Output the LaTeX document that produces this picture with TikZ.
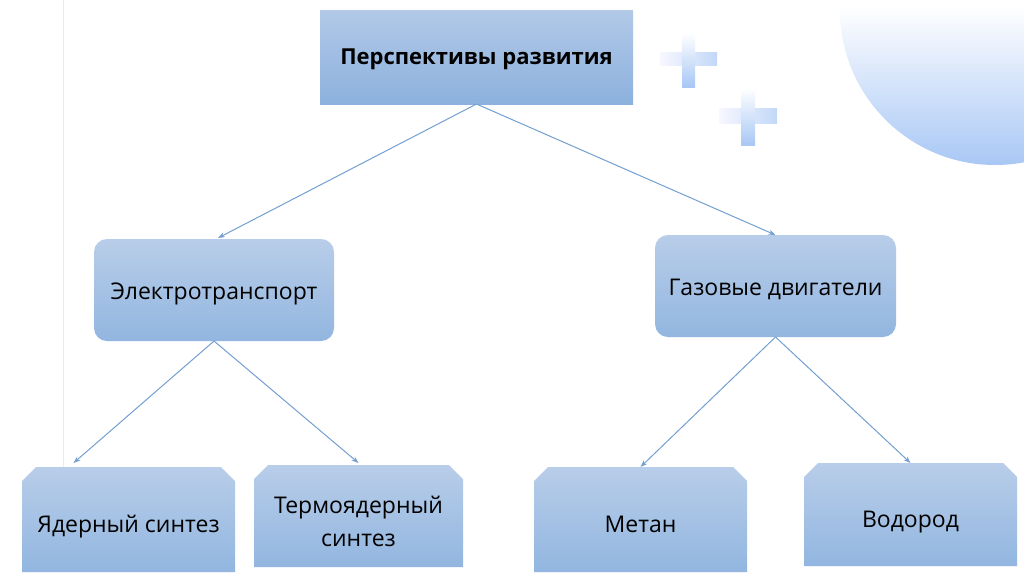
\documentclass[tikz,border=0pt]{standalone}
\usepackage{fontspec}
\setmainfont{Open Sans}
\usetikzlibrary{arrows.meta, shapes.misc}
\definecolor{boxtop}{RGB}{184,205,233}
\definecolor{boxbot}{RGB}{146,182,224}
\definecolor{headtop}{RGB}{178,201,231}
\definecolor{headbot}{RGB}{140,177,222}
\definecolor{linkblue}{RGB}{115,160,208}
\definecolor{deco}{RGB}{168,199,245}

\tikzset{
  box/.style={inner sep=0pt, outer sep=0pt, align=center, top color=boxtop, bottom color=boxbot,
    font=\fontsize{23}{33}\selectfont},
  headbox/.style={box, top color=headtop, bottom color=headbot, font=\fontsize{22}{30}\selectfont\bfseries,
    text height=20pt, text depth=6pt},
  roundbox/.style={box, rounded corners=13pt, text height=24pt, text depth=6pt},
  cutbox/.style={box, chamfered rectangle, chamfered rectangle sep=7pt,
    chamfered rectangle corners={north west,north east}},
  lowtext/.style={text height=32pt, text depth=6pt},
  link/.style={-{Stealth[length=7pt,width=5pt]}, linkblue, line width=1pt}
}

\begin{document}
\begin{tikzpicture}[x=1pt,y=-1pt]
\useasboundingbox (0,0) rectangle (1024,574);
\fill[white] (0,0) rectangle (1024,574);

% corner decoration
\begin{scope}
\clip (995,10) circle (155);
\shade[top color=white, bottom color=deco] (830,6) rectangle (1024,166);
\end{scope}
\draw[black!8, line width=1pt] (63,0) -- (63,467);

% plus signs
\shade[left color=blue!3, right color=deco!70] (660,52) rectangle (717,65);
\shade[top color=white, bottom color=deco] (682,33) rectangle (695,87);
\shade[left color=blue!3, right color=deco!70] (719,108) rectangle (777,123);
\shade[top color=white, bottom color=deco] (741,88) rectangle (755,145);

% root
\node[headbox, minimum width=313pt, minimum height=94pt] (root) at (476.5,57) {Перспективы развития};

% second level
\node[roundbox, minimum width=240pt, minimum height=102pt] (elec) at (214,290) {Электротранспорт};
\node[roundbox, minimum width=241pt, minimum height=102pt] (gas) at (775.5,286) {Газовые двигатели};

% third level
\node[cutbox, lowtext, minimum width=213pt, minimum height=105pt] (yad) at (128.5,519.5) {Ядерный синтез};
\node[cutbox, text height=66pt, text depth=6pt, minimum width=209pt, minimum height=102pt] (term) at (358.5,516) {Термоядерный\\синтез};
\node[cutbox, lowtext, minimum width=213pt, minimum height=105pt] (metan) at (640.5,519.5) {Метан};
\node[cutbox, lowtext, minimum width=213pt, minimum height=103pt] (vodo) at (910.5,514.5) {Водород};

% links
\draw[link] (root.south) -- ([xshift=4pt,yshift=1pt]elec.north);
\draw[link] (root.south) -- (gas.north);
\draw[link] (elec.south) -- ([xshift=-55pt,yshift=4pt]yad.north);
\draw[link] (elec.south) -- ([yshift=2pt]term.north);
\draw[link] (gas.south) -- (metan.north);
\draw[link] (gas.south) -- (vodo.north);
\end{tikzpicture}
\end{document}
